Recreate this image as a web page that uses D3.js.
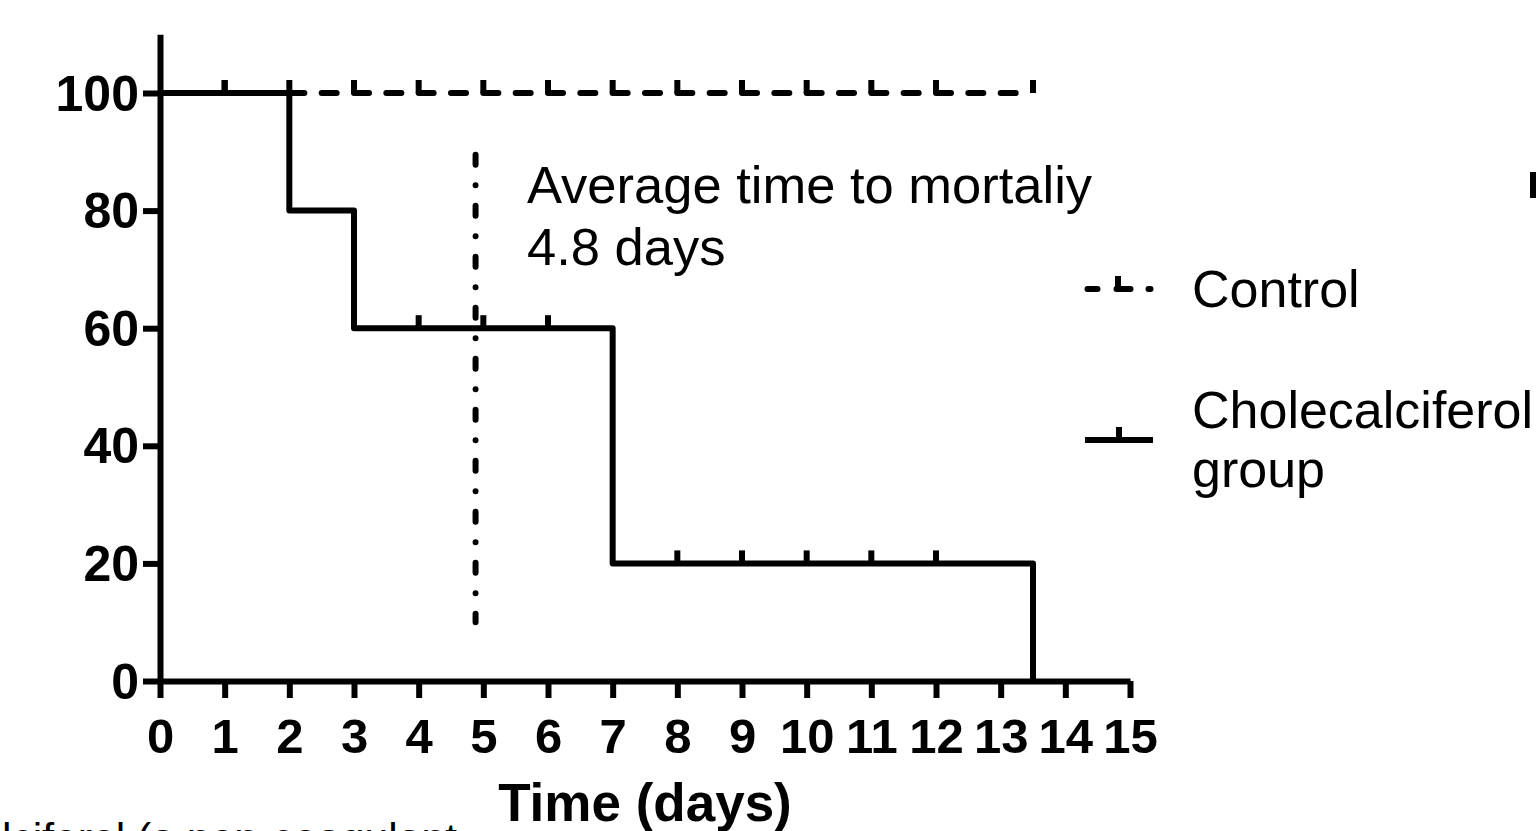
<!DOCTYPE html>
<html>
<head>
<meta charset="utf-8">
<title>Survival curve</title>
<script src="https://cdn.jsdelivr.net/npm/d3@7"></script>
<style>
    html, body { margin: 0; padding: 0; background: #fff; overflow: hidden; }
    svg { display: block; }
    text { font-family: "Liberation Sans", Arial, Helvetica, sans-serif; fill: #000; }
</style>
</head>
<body>
<div id="chart"></div>
<script>
// --- data ---
const xTicks = [0, 1, 2, 3, 4, 5, 6, 7, 8, 9, 10, 11, 12, 13, 14, 15];
const yTicks = [0, 20, 40, 60, 80, 100];

const controlTimes = [0, 13.5];
const controlSurvival = [100, 100];
const controlCensored = [1, 2, 3, 4, 5, 6, 7, 8, 9, 10, 11, 12, 13.5];

const choleTimes = [0, 2, 3, 7, 13.5];
const choleSurvival = [100, 80, 60, 20, 0];
const choleCensored = [1, 4, 5, 6, 8, 9, 10, 11, 12];

const meanTime = 4.88;          // drawn position of the "average time" marker
const meanRange = [10, 90];
const noteLines = ['Average time to mortaliy', '4.8 days'];
const legendLabels = [['Control'], ['Cholecalciferol', 'group']];

class SurvivalChart {
    constructor(containerId) {
        this.width = 1536;
        this.height = 831;
        this.svg = d3.select('#' + containerId).append('svg')
            .attr('width', this.width)
            .attr('height', this.height);

        this.x = d3.scaleLinear().domain([0, 15]).range([160, 1130]);
        this.y = d3.scaleLinear().domain([0, 110]).range([681, 34.2]);
        this.stroke = 6;

        this.drawAxes();
        this.drawCurves();
        this.drawMarker();
        this.drawLegend();
        this.drawScraps();
    }

    // survival level at time t for a step curve
    levelAt(times, surv, t) {
        const i = d3.bisectRight(times, t) - 1;
        return surv[Math.max(0, i)];
    }

    drawAxes() {
        const yAxis = d3.axisLeft(this.y)
            .tickValues(yTicks)
            .tickSize(17)
            .tickSizeOuter(0)
            .tickPadding(4);
        const gy = this.svg.append('g')
            .attr('transform', `translate(${this.x(0)},0)`)
            .call(yAxis);

        const xAxis = d3.axisBottom(this.x)
            .tickValues(xTicks)
            .tickSize(17)
            .tickSizeOuter(0)
            .tickPadding(20);
        const gx = this.svg.append('g')
            .attr('transform', `translate(0,${this.y(0)})`)
            .call(xAxis);

        [gx, gy].forEach(g => {
            g.select('.domain').attr('stroke', '#000').attr('stroke-width', this.stroke);
            g.selectAll('.tick line').attr('stroke', '#000').attr('stroke-width', this.stroke);
            g.selectAll('.tick text')
                .attr('font-family', '"Liberation Sans", Arial, sans-serif')
                .attr('font-weight', 'bold')
                .attr('font-size', 49)
                .attr('fill', '#000');
        });
        gy.selectAll('.tick text').attr('font-size', 50).attr('dy', '0.34em');

        this.svg.append('text')
            .attr('x', (this.x(0) + this.x(15)) / 2)
            .attr('y', 821)
            .attr('text-anchor', 'middle')
            .attr('font-weight', 'bold')
            .attr('font-size', 53)
            .text('Time (days)');
    }

    drawCurves() {
        const line = d3.line()
            .x(d => this.x(d[0]))
            .y(d => this.y(d[1]))
            .curve(d3.curveStepAfter);

        const halfDay = this.x(0.5) - this.x(0);

        // control: dashed
        this.svg.append('path')
            .attr('d', line(d3.zip(controlTimes, controlSurvival)))
            .attr('fill', 'none')
            .attr('stroke', '#000')
            .attr('stroke-width', this.stroke)
            .attr('stroke-linecap', 'round')
            .attr('stroke-dasharray', `15 ${halfDay - 15}`);

        // cholecalciferol: solid
        this.svg.append('path')
            .attr('d', line(d3.zip(choleTimes, choleSurvival)))
            .attr('fill', 'none')
            .attr('stroke', '#000')
            .attr('stroke-width', this.stroke)
            .attr('stroke-linejoin', 'round');

        const censor = (times, surv, list) => {
            this.svg.append('g').selectAll('line')
                .data(list)
                .enter()
                .append('line')
                .attr('x1', d => this.x(d))
                .attr('x2', d => this.x(d))
                .attr('y1', d => this.y(this.levelAt(times, surv, d)))
                .attr('y2', d => this.y(this.levelAt(times, surv, d)) - 13)
                .attr('stroke', '#000')
                .attr('stroke-width', this.stroke);
        };
        censor(controlTimes, controlSurvival, controlCensored);
        censor(choleTimes, choleSurvival, choleCensored);
    }

    drawMarker() {
        const mx = this.x(meanTime);
        this.svg.append('line')
            .attr('x1', mx).attr('x2', mx)
            .attr('y1', this.y(meanRange[1]) + 3)
            .attr('y2', this.y(meanRange[0]))
            .attr('stroke', '#000')
            .attr('stroke-width', 6)
            .attr('stroke-linecap', 'round')
            .attr('stroke-dasharray', '10 20.45 0.1 20.45');

        this.svg.append('g').selectAll('text')
            .data(noteLines)
            .enter()
            .append('text')
            .attr('x', 527)
            .attr('y', (d, i) => 203 + i * 62)
            .attr('font-size', 52.5)
            .text(d => d);
    }

    drawLegend() {
        const g = this.svg.append('g');

        // control symbol: dash, tick-dash, dot
        g.append('line')
            .attr('x1', 1087.5).attr('x2', 1153)
            .attr('y1', 289).attr('y2', 289)
            .attr('stroke', '#000')
            .attr('stroke-width', this.stroke)
            .attr('stroke-linecap', 'round')
            .attr('stroke-dasharray', '10 19 14 18 2 40');
        g.append('line')
            .attr('x1', 1118).attr('x2', 1118)
            .attr('y1', 289).attr('y2', 276)
            .attr('stroke', '#000')
            .attr('stroke-width', this.stroke);

        // cholecalciferol symbol
        g.append('line')
            .attr('x1', 1085).attr('x2', 1153)
            .attr('y1', 440).attr('y2', 440)
            .attr('stroke', '#000')
            .attr('stroke-width', this.stroke);
        g.append('line')
            .attr('x1', 1119).attr('x2', 1119)
            .attr('y1', 440).attr('y2', 427)
            .attr('stroke', '#000')
            .attr('stroke-width', this.stroke);

        const baseY = [307, 428];
        legendLabels.forEach((lines, k) => {
            lines.forEach((t, i) => {
                g.append('text')
                    .attr('x', 1192)
                    .attr('y', baseY[k] + i * 59)
                    .attr('font-size', 52)
                    .text(t);
            });
        });
    }

    // fragments of the surrounding page that show in the crop
    drawScraps() {
        this.svg.append('rect')
            .attr('x', 1530).attr('y', 172)
            .attr('width', 6).attr('height', 26)
            .attr('fill', '#000');

        this.svg.append('text')
            .attr('x', 2)
            .attr('y', 852)
            .attr('font-family', '"Open Sans", "Noto Sans", sans-serif')
            .attr('font-size', 40)
            .attr('textLength', 455)
            .attr('lengthAdjust', 'spacingAndGlyphs')
            .text('lciferol (a non-coagulant');
    }
}

new SurvivalChart('chart');
</script>
</body>
</html>
